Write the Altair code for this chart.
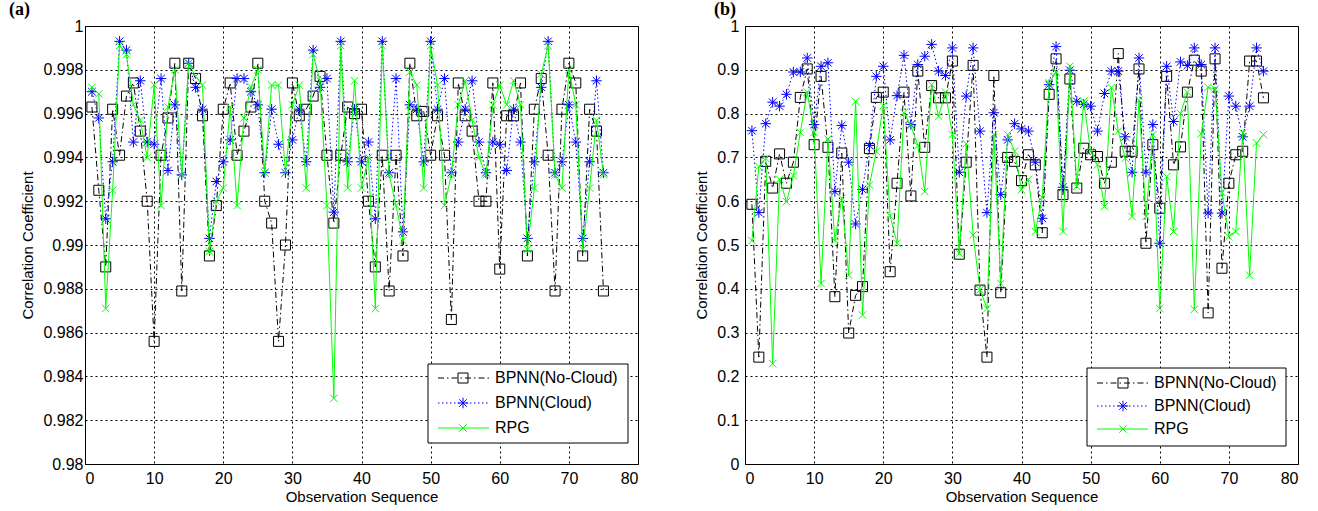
import altair as alt
import pandas as pd

x_vals = list(range(1, 76))
x_ticks = [0, 10, 20, 30, 40, 50, 60, 70, 80]
y_ticks_a = [0.98, 0.982, 0.984, 0.986, 0.988, 0.99, 0.992, 0.994, 0.996, 0.998, 1.0]
y_ticks_b = [0, 0.1, 0.2, 0.3, 0.4, 0.5, 0.6, 0.7, 0.8, 0.9, 1.0]
series_names = ["BPNN(No-Cloud)", "BPNN(Cloud)", "RPG"]

# Panel (a)
a_nc = [0.9963, 0.9925, 0.9890, 0.9962, 0.9941, 0.9968, 0.9974, 0.9952, 0.9920, 0.9856,
        0.9941, 0.9958, 0.9983, 0.9879, 0.9983, 0.9976, 0.9959, 0.9895, 0.9918, 0.9962,
        0.9974, 0.9941, 0.9952, 0.9963, 0.9983, 0.9920, 0.9910, 0.9856, 0.9900, 0.9974,
        0.9959, 0.9962, 0.9968, 0.9977, 0.9941, 0.9910, 0.9941, 0.9963, 0.9960, 0.9962,
        0.9920, 0.9890, 0.9941, 0.9879, 0.9941, 0.9895, 0.9983, 0.9959, 0.9961, 0.9941,
        0.9959, 0.9941, 0.9866, 0.9974, 0.9959, 0.9952, 0.9920, 0.9920, 0.9974, 0.9889,
        0.9959, 0.9959, 0.9974, 0.9895, 0.9962, 0.9976, 0.9941, 0.9879, 0.9962, 0.9983,
        0.9974, 0.9895, 0.9962, 0.9952, 0.9879]
a_c = [0.9970, 0.9958, 0.9912, 0.9938, 0.9993, 0.9989, 0.9947, 0.9975, 0.9947, 0.9946,
       0.9976, 0.9934, 0.9964, 0.9932, 0.9983, 0.9972, 0.9962, 0.9903, 0.9929, 0.9938,
       0.9948, 0.9976, 0.9976, 0.9970, 0.9964, 0.9933, 0.9962, 0.9946, 0.9933, 0.9948,
       0.9962, 0.9938, 0.9989, 0.9972, 0.9976, 0.9915, 0.9993, 0.9938, 0.9962, 0.9938,
       0.9947, 0.9912, 0.9993, 0.9933, 0.9976, 0.9906, 0.9964, 0.9962, 0.9938, 0.9993,
       0.9962, 0.9976, 0.9933, 0.9947, 0.9962, 0.9975, 0.9947, 0.9933, 0.9947, 0.9946,
       0.9934, 0.9962, 0.9947, 0.9903, 0.9938, 0.9972, 0.9993, 0.9933, 0.9938, 0.9964,
       0.9947, 0.9903, 0.9938, 0.9975, 0.9933]
a_r = [0.9972, 0.9969, 0.9871, 0.9925, 0.9991, 0.9987, 0.9964, 0.9957, 0.9940, 0.9973,
       0.9918, 0.9963, 0.9980, 0.9932, 0.9983, 0.9977, 0.9973, 0.9897, 0.9920, 0.9926,
       0.9963, 0.9918, 0.9958, 0.9972, 0.9980, 0.9933, 0.9973, 0.9973, 0.9933, 0.9964,
       0.9973, 0.9926, 0.9987, 0.9975, 0.9918, 0.9830, 0.9991, 0.9926, 0.9975, 0.9926,
       0.9940, 0.9871, 0.9991, 0.9932, 0.9918, 0.9902, 0.9979, 0.9973, 0.9926, 0.9991,
       0.9973, 0.9918, 0.9932, 0.9964, 0.9975, 0.9957, 0.9940, 0.9932, 0.9964, 0.9973,
       0.9964, 0.9975, 0.9964, 0.9898, 0.9926, 0.9978, 0.9991, 0.9932, 0.9926, 0.9980,
       0.9964, 0.9898, 0.9926, 0.9957, 0.9932]

# Panel (b)
b_nc = [0.593, 0.244, 0.691, 0.630, 0.708, 0.641, 0.689, 0.837, 0.902, 0.729,
        0.885, 0.723, 0.382, 0.710, 0.299, 0.385, 0.405, 0.720, 0.837, 0.849,
        0.439, 0.641, 0.849, 0.612, 0.897, 0.723, 0.864, 0.836, 0.836, 0.920,
        0.479, 0.689, 0.910, 0.397, 0.244, 0.887, 0.391, 0.700, 0.691, 0.647,
        0.706, 0.683, 0.528, 0.844, 0.925, 0.615, 0.879, 0.630, 0.721, 0.706,
        0.702, 0.641, 0.689, 0.937, 0.714, 0.714, 0.902, 0.504, 0.729, 0.584,
        0.885, 0.683, 0.724, 0.849, 0.922, 0.897, 0.345, 0.925, 0.447, 0.641,
        0.706, 0.714, 0.920, 0.920, 0.836]
b_c = [0.761, 0.574, 0.777, 0.826, 0.817, 0.844, 0.895, 0.895, 0.927, 0.775,
       0.908, 0.916, 0.622, 0.773, 0.689, 0.548, 0.627, 0.727, 0.885, 0.908,
       0.740, 0.841, 0.933, 0.775, 0.912, 0.931, 0.958, 0.897, 0.887, 0.950,
       0.666, 0.840, 0.950, 0.760, 0.574, 0.802, 0.615, 0.740, 0.777, 0.765,
       0.760, 0.689, 0.561, 0.866, 0.953, 0.632, 0.899, 0.828, 0.821, 0.817,
       0.760, 0.846, 0.897, 0.897, 0.747, 0.666, 0.927, 0.666, 0.775, 0.504,
       0.908, 0.782, 0.918, 0.910, 0.950, 0.912, 0.573, 0.950, 0.573, 0.840,
       0.817, 0.747, 0.817, 0.950, 0.897]
b_r = [0.510, 0.679, 0.698, 0.229, 0.650, 0.599, 0.658, 0.757, 0.849, 0.757,
       0.412, 0.742, 0.510, 0.607, 0.431, 0.828, 0.340, 0.637, 0.714, 0.818,
       0.566, 0.504, 0.802, 0.773, 0.727, 0.622, 0.866, 0.794, 0.849, 0.752,
       0.481, 0.731, 0.523, 0.398, 0.355, 0.752, 0.412, 0.752, 0.714, 0.626,
       0.650, 0.531, 0.609, 0.870, 0.895, 0.531, 0.908, 0.634, 0.828, 0.714,
       0.683, 0.588, 0.859, 0.760, 0.698, 0.565, 0.830, 0.565, 0.752, 0.355,
       0.656, 0.531, 0.800, 0.849, 0.353, 0.754, 0.860, 0.856, 0.620, 0.519,
       0.531, 0.756, 0.431, 0.733, 0.752]

FONT = "Liberation Sans"
COLORS = ["#000000", "#0000ff", "#00ff00"]
DASHES = [[6, 3, 1.5, 3], [1.5, 2.5], None]
ASTERISK = "M-1,0L1,0M0,-1L0,1M-0.72,-0.72L0.72,0.72M-0.72,0.72L0.72,-0.72"
XMARK = "M-1,-1L1,1M-1,1L1,-1"
SHAPES = ["square", ASTERISK, XMARK]
SIZES = [100, 110, 55]

PW, PH = 553, 438


def make_panel(vals3, ydom, yticks, title_text, title_dx, ylab_pad, ytitle_pad, leg):
    df = pd.DataFrame({"x": x_vals, "s0": vals3[0], "s1": vals3[1], "s2": vals3[2]})
    xenc = alt.X("x:Q", scale=alt.Scale(domain=[0, 80], nice=False, zero=False),
                 axis=alt.Axis(values=x_ticks, title="Observation Sequence", format="d",
                               labelPadding=6, titlePadding=3))
    layers = []
    for i in range(3):
        yenc = alt.Y(f"s{i}:Q", scale=alt.Scale(domain=ydom, nice=False, zero=False),
                     axis=alt.Axis(values=yticks, format="~f", title="Correlation Coefficient",
                                   labelPadding=ylab_pad, titlePadding=ytitle_pad))
        base = alt.Chart(df).encode(x=xenc, y=yenc)
        line_kw = dict(color=COLORS[i], strokeWidth=1)
        if DASHES[i] is not None:
            line_kw["strokeDash"] = DASHES[i]
        layers.append(base.mark_line(**line_kw))
        layers.append(base.mark_point(shape=SHAPES[i], size=SIZES[i], filled=False,
                                      color=COLORS[i], strokeWidth=1, opacity=1))
    # legend box
    bx0, by0, bx1, by1, rows, lx0, lx1, mx, tx = leg
    one = pd.DataFrame({"k": [0]})
    layers.append(alt.Chart(one).mark_rect(fill="white", stroke="black", strokeWidth=1).encode(
        x=alt.value(bx0), x2=alt.value(bx1), y=alt.value(by0), y2=alt.value(by1)))
    for i in range(3):
        line_kw = dict(color=COLORS[i], strokeWidth=1)
        if DASHES[i] is not None:
            line_kw["strokeDash"] = DASHES[i]
        layers.append(alt.Chart(one).mark_rule(**line_kw).encode(
            x=alt.value(lx0), x2=alt.value(lx1), y=alt.value(rows[i])))
        layers.append(alt.Chart(one).mark_point(shape=SHAPES[i], size=SIZES[i], filled=False,
                                                color=COLORS[i], strokeWidth=1, opacity=1).encode(
            x=alt.value(mx), y=alt.value(rows[i])))
        layers.append(alt.Chart(pd.DataFrame({"label": [series_names[i]]})).mark_text(
            align="left", baseline="middle", font=FONT, fontSize=16, color="black").encode(
            x=alt.value(tx), y=alt.value(rows[i]), text="label:N"))
    return alt.layer(*layers).properties(
        width=PW, height=PH,
        title=alt.TitleParams(title_text, anchor="start", frame="group", dx=title_dx,
                              font="Liberation Serif", fontSize=18, fontWeight="bold",
                              color="black", offset=-1))


pa = make_panel([a_nc, a_c, a_r], [0.98, 1.0], y_ticks_a, "(a)", -76, 2, 7,
                (343, 338, 543, 417, [352, 377, 402], 353, 404, 378, 410))
pb = make_panel([b_nc, b_c, b_r], [0, 1.0], y_ticks_b, "(b)", -31, 6, 7,
                (342, 342, 541, 420, [357, 380, 403], 352, 403, 378, 409))

chart = alt.hconcat(pa, pb, spacing=107, bounds="flush").properties(
    padding={"left": 8, "top": 0, "right": 5, "bottom": 0}
).configure_axis(
    labelFont=FONT, titleFont=FONT, labelFontSize=16, titleFontSize=15,
    labelColor="black", titleColor="black", titleFontWeight="normal",
    gridColor="black", gridDash=[2, 3], gridOpacity=1, gridWidth=1,
    domainColor="black", domainWidth=1, ticks=False
).configure_view(stroke="black", strokeWidth=1)

chart.save("out.html", embed_options={"renderer": "svg", "actions": False})
